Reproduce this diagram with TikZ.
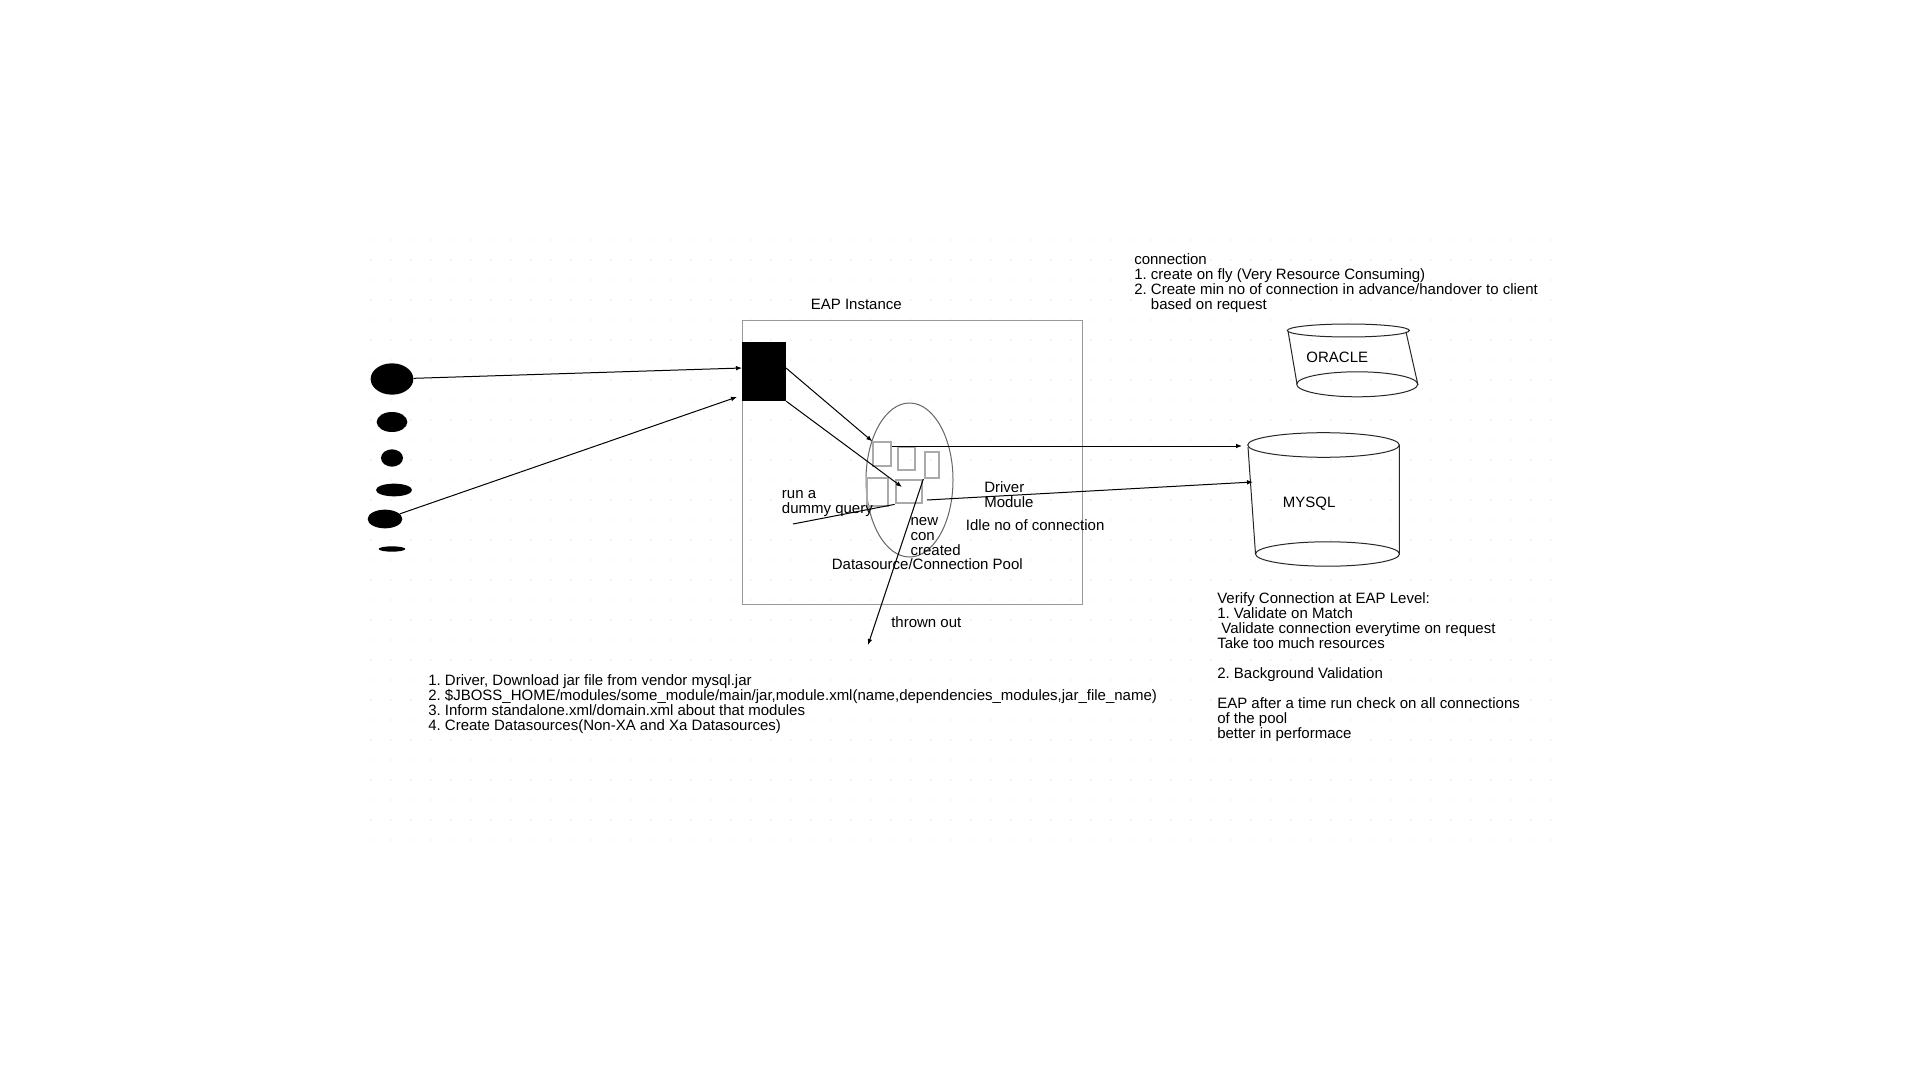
\documentclass[tikz,border=0pt]{standalone}
\usepackage{fontspec}
\setmainfont{Liberation Sans}
\usetikzlibrary{arrows.meta,shapes.geometric}
\definecolor{boxgray}{HTML}{999999}
\definecolor{cellgray}{HTML}{AAAAAA}
\definecolor{dotgray}{HTML}{D6D6D6}
\newcommand{\tstrut}{\rule{0pt}{9pt}}
\frenchspacing

\begin{document}
\begin{tikzpicture}[x=0.75pt,y=-0.75pt,
	txt/.style={font=\fontsize{11.25}{11.25}\selectfont,inner sep=0pt,align=left,anchor=north west},
	lbl/.style={font=\fontsize{11.25}{11.25}\selectfont,inner sep=0pt},
	user/.style={ellipse,fill=black,inner sep=0pt},
	cell/.style={draw=cellgray,line width=1.5pt,inner sep=0pt},
	link/.style={-{Latex[length=4.5pt,width=3.5pt]},line width=0.75pt}]
		\path[use as bounding box,fill=white] (0,0) rectangle (1920,1080);
		\foreach \i in {0,...,59}
			\foreach \j in {0,...,30}
				\fill[dotgray] (371+20*\i,240+20*\j) circle (0.5pt);
		
		\node[draw=boxgray,line width=0.75pt,minimum width=255pt,minimum height=212.25pt,inner sep=0pt] (eap) at (912,462.5) {};
		\node[lbl,anchor=base] (eaplbl) at (856.3,309.3) {EAP Instance};
		\node[fill=black,minimum width=33pt,minimum height=44.25pt,inner sep=0pt] (srv) at (764,371.5) {};
		\node[ellipse,draw=black!60,line width=0.75pt,minimum width=65.25pt,minimum height=115.5pt,inner sep=0pt] (pool) at (909.5,480) {};
		
		\node[user,minimum width=32pt,minimum height=23.5pt] (u1) at (392,379) {};
		\node[user,minimum width=23pt,minimum height=15pt] (u2) at (392,422) {};
		\node[user,minimum width=16.5pt,minimum height=13pt] (u3) at (392,458) {};
		\node[user,minimum width=27pt,minimum height=9.5pt] (u4) at (394,490) {};
		\node[user,minimum width=26pt,minimum height=14pt] (u5) at (385,519) {};
		\node[user,minimum width=20pt,minimum height=4pt] (u6) at (392,549) {};
		
		\node[cell,minimum width=13.5pt,minimum height=17.8pt] (r1) at (882.3,454.2) {};
		\node[cell,minimum width=13.2pt,minimum height=17.5pt] (r2) at (906.5,458.3) {};
		\node[cell,minimum width=10.7pt,minimum height=19.5pt] (r3) at (932.2,465.3) {};
		\node[cell,minimum width=15.75pt,minimum height=20.8pt] (r4) at (877.5,492.2) {};
		\node[cell,minimum width=20pt,minimum height=17.5pt] (r5) at (909,491.7) {};
		
		\draw[line width=0.75pt,black!85] (1348.3,330.5) ellipse [x radius=61,y radius=6.5];
		\draw[line width=0.75pt,black!85] (1357.2,384.3) ellipse [x radius=60.5,y radius=12.5];
		\draw[line width=0.75pt,black!85] (1288,331) -- (1297,384) (1406,332) -- (1418,385);
		\node[lbl,anchor=base] (oracle) at (1337.3,362.5) {ORACLE};
		
		\draw[line width=0.75pt,black!85] (1323.5,445) ellipse [x radius=75.8,y radius=12.3];
		\draw[line width=0.75pt,black!85] (1327.5,554) ellipse [x radius=72,y radius=12.2];
		\draw[line width=0.75pt,black!85] (1248,447) -- (1255.5,554) (1399.3,445) -- (1399.3,554);
		\node[lbl,anchor=base] (mysql) at (1309.2,507.3) {MYSQL};
		
		\coordinate (srvin) at (742,368);
		\coordinate (srvlow) at (737,397);
		\coordinate (srvout) at (786,368);
		\coordinate (newcon) at (902,487);
		\coordinate (mysqltop) at (1242,446);
		\coordinate (drv) at (927,500);
		\coordinate (mysqlside) at (1253,482);
		\coordinate (out) at (868,645);
		\coordinate (qry) at (793,524);
		\draw[link] (u1) -- (srvin);
		\draw[link] (u5) -- (srvlow);
		\draw[link] (srvout) -- (r1.north west);
		\draw[link] (srv.south east) -- (newcon);
		\draw[link] (r1.north east |- mysqltop) -- (mysqltop);
		\draw[link] (drv) -- (mysqlside);
		\draw[link] (r5.north east) -- (out);
		\draw[line width=0.75pt] (qry) -- (r5.south west);
		
		\node[txt] (query) at (781.7,486.5) {\tstrut run a\\dummy query};
		\node[txt] (driver) at (984,480.7) {\tstrut Driver\\Module};
		\node[txt] (created) at (910.3,513) {\tstrut new\\con\\created};
		\node[lbl,anchor=base west] (idle) at (965.7,530) {Idle no of connection};
		\node[lbl,anchor=base] (poollbl) at (927.3,569.3) {Datasource/Connection Pool};
		\node[lbl,anchor=base west] (thrown) at (891,627) {thrown out};
		
		\node[txt] (conn) at (1134,252) {\tstrut connection\\1. create on fly (Very Resource Consuming)\\2. Create min no of connection in advance/handover to client\\\phantom{2.\ }based on request};
		\node[txt] (verify) at (1217,591.3) {\tstrut Verify Connection at EAP Level:\\1. Validate on Match\\\ Validate connection everytime on request\\Take too much resources\\~\\2. Background Validation\\~\\EAP after a time run check on all connections\\of the pool\\better in performace};
		\node[txt] (steps) at (428,673) {\tstrut 1. Driver, Download jar file from vendor mysql.jar\\2. \$JBOSS\_HOME/modules/some\_module/main/jar,module.xml(name,dependencies\_modules,jar\_file\_name)\\3. Inform standalone.xml/domain.xml about that modules\\4. Create Datasources(Non-XA and Xa Datasources)};
		
\end{tikzpicture}
\end{document}
